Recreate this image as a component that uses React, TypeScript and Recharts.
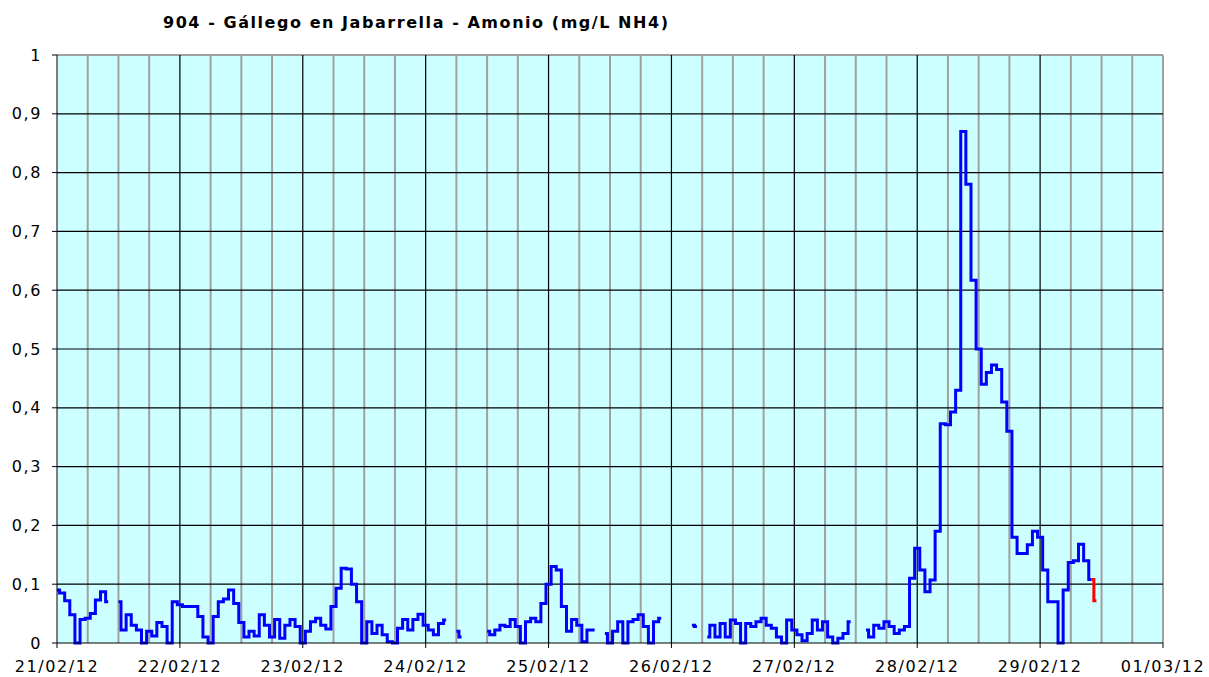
import { LineChart, Line, XAxis, YAxis, CartesianGrid } from "recharts";

// hourly readings, one array per day (null = no data)
const day21 = [0.09, 0.085, 0.072, 0.048, 0, 0.04, 0.042, 0.05, 0.073, 0.087, 0.07, null, 0.07, 0.022, 0.048, 0.03, 0.022, 0, 0.02, 0.012, 0.035, 0.028, 0, 0.07];
const day22 = [0.065, 0.062, 0.062, 0.062, 0.045, 0.01, 0, 0.045, 0.07, 0.075, 0.09, 0.067, 0.035, 0.01, 0.02, 0.012, 0.048, 0.03, 0.01, 0.04, 0.008, 0.03, 0.04, 0.028];
const day23 = [0, 0.02, 0.036, 0.042, 0.03, 0.024, 0.062, 0.093, 0.127, 0.126, 0.1, 0.07, 0, 0.036, 0.016, 0.03, 0.014, 0.002, 0, 0.025, 0.04, 0.022, 0.04, 0.049];
const day24 = [0.03, 0.022, 0.014, 0.033, 0.039, null, 0.02, 0.01, null, null, null, null, 0.02, 0.014, 0.022, 0.03, 0.028, 0.04, 0.028, 0, 0.036, 0.042, 0.036, 0.067];
const day25 = [0.1, 0.13, 0.124, 0.062, 0.02, 0.04, 0.03, 0.002, 0.022, 0.022, null, 0.016, 0, 0.02, 0.036, 0, 0.036, 0.04, 0.048, 0.028, 0, 0.036, 0.042, null];
const day26 = [null, null, null, null, 0.03, 0.028, null, 0.01, 0.03, 0.01, 0.033, 0.01, 0.039, 0.033, 0, 0.033, 0.028, 0.036, 0.042, 0.03, 0.025, 0.01, 0, 0.039];
const day27 = [0.022, 0.014, 0.004, 0.016, 0.039, 0.022, 0.036, 0.01, 0, 0.008, 0.016, 0.036, null, null, 0.022, 0.01, 0.03, 0.025, 0.036, 0.028, 0.016, 0.022, 0.028, 0.11];
const day28 = [0.161, 0.124, 0.087, 0.107, 0.19, 0.373, 0.371, 0.393, 0.43, 0.87, 0.78, 0.617, 0.5, 0.44, 0.46, 0.473, 0.465, 0.41, 0.36, 0.18, 0.152, 0.152, 0.167, 0.19];
const day29 = [0.18, 0.124, 0.07, 0.07, 0, 0.09, 0.137, 0.14, 0.168, 0.14, 0.108];

// last readings shown in red
const redHours = [202, 203];
const redValues = [0.108, 0.072];

const dayLabels = ["21/02/12", "22/02/12", "23/02/12", "24/02/12", "25/02/12", "26/02/12", "27/02/12", "28/02/12", "29/02/12", "01/03/12"];
const yTicks = [0, 0.1, 0.2, 0.3, 0.4, 0.5, 0.6, 0.7, 0.8, 0.9, 1];

const blueValues = [...day21, ...day22, ...day23, ...day24, ...day25, ...day26, ...day27, ...day28, ...day29];

const data: { h: number; blue: number | null; red: number | null }[] = [];
for (let i = 0; i <= redHours[redHours.length - 1]; i++) {
  const r = redHours.indexOf(i);
  data.push({
    h: i,
    blue: i < blueValues.length ? blueValues[i] : null,
    red: r >= 0 ? redValues[r] : null,
  });
}

const dayTicks = dayLabels.map((_, i) => i * 24);
const quarterLines: number[] = [];
dayTicks.slice(0, -1).forEach((d) => quarterLines.push(d + 6, d + 12, d + 18));
quarterLines.push(216);

const font = "'DejaVu Sans', Verdana, sans-serif";
const tickStyle = { fontSize: 16, fill: "#000", fontFamily: font, letterSpacing: 1.6 };

const App = () => {
  return (
    <div style={{ position: "absolute", left: 0, top: 0, width: 1209, height: 677, background: "#fff" }}>
      <div style={{ position: "absolute", left: 163, top: 13, fontFamily: font, fontWeight: "bold", fontSize: 16, letterSpacing: 1.55, color: "#000", whiteSpace: "nowrap" }}>
        904 - Gállego en Jabarrella - Amonio (mg/L NH4)
      </div>
      <LineChart width={1209} height={677} data={data} margin={{ top: 55, right: 46, left: 0, bottom: 0 }}>
        <CartesianGrid fill="#CCFFFF" stroke="#A0A0A0" strokeWidth={2} horizontalValues={[1]} verticalValues={quarterLines} />
        <CartesianGrid stroke="#000" strokeWidth={1.2} horizontalValues={yTicks.slice(1, -1)} verticalValues={dayTicks.slice(1, -1)} />
        <XAxis
          type="number"
          dataKey="h"
          domain={[0, 216]}
          ticks={dayTicks}
          tickFormatter={(v: number) => dayLabels[Math.round(v / 24)]}
          height={34}
          tickSize={5}
          tickMargin={13}
          stroke="#000"
          tick={tickStyle}
          interval={0}
        />
        <YAxis
          type="number"
          domain={[0, 1]}
          ticks={yTicks}
          tickFormatter={(v: number) => String(Math.round(v * 10) / 10).replace(".", ",")}
          width={57}
          tickSize={5}
          tickMargin={10}
          stroke="#000"
          tick={tickStyle}
          interval={0}
        />
        <Line type="step" dataKey="blue" stroke="#0000FF" strokeWidth={3} dot={false} connectNulls={false} isAnimationActive={false} />
        <Line type="step" dataKey="red" stroke="#FF0000" strokeWidth={3} dot={false} connectNulls={false} isAnimationActive={false} />
      </LineChart>
    </div>
  );
};

export default App;
